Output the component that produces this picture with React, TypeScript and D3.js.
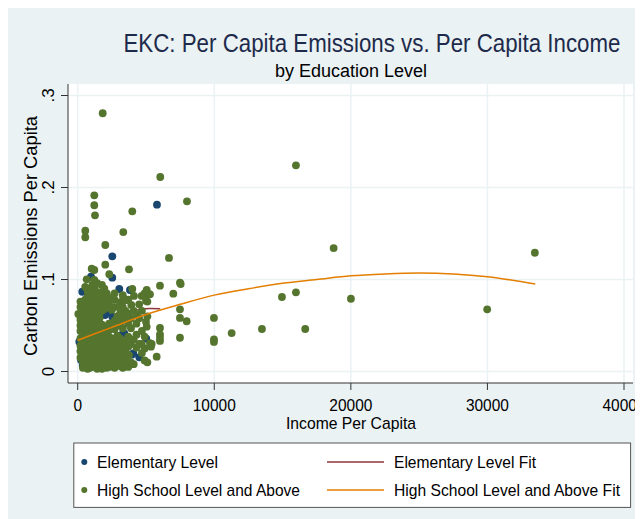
import React from "react";
import * as d3 from "d3";

// values
const xTicks = [0, 10000, 20000, 30000, 40000];
const yTicks = [0, 0.1, 0.2, 0.3];
const yTickLabels = ["0", ".1", ".2", ".3"];

const elementaryPoints: [number, number][] = [
  [5805, 0.1813], [2533, 0.1252], [2533, 0.102], [974, 0.103], [337, 0.0867],
  [974, 0.0832], [3045, 0.0897], [3828, 0.0886], [1998, 0.0614], [2533, 0.0596],
  [3294, 0.0408], [5022, 0.0357], [3953, 0.0183], [4509, 0.0154], [4070, 0.0198],
  [117, 0.0324], [242, 0.0125], [366, 0.0071], [2072, 0.063], [3411, 0.0415],
];

const highSchoolPoints: [number, number][] = [
  [1830, 0.2807], [6046, 0.2114], [8001, 0.185], [1215, 0.1915], [1215, 0.1807],
  [1266, 0.1698], [3997, 0.1741], [556, 0.153], [556, 0.1459], [3338, 0.1516],
  [2020, 0.1375], [6683, 0.1234], [2020, 0.1161], [3755, 0.1111], [1025, 0.1117],
  [1215, 0.1103], [2313, 0.1057], [659, 0.1002], [1215, 0.0995], [7488, 0.0965],
  [7540, 0.0951], [6024, 0.0933], [3997, 0.0897], [5050, 0.0886], [5240, 0.0842],
  [7000, 0.0846], [5292, 0.0839], [3338, 0.0796], [3485, 0.0774], [4120, 0.0821],
  [4685, 0.0821], [5000, 0.077], [3924, 0.0723], [2240, 0.0704], [3096, 0.0693],
  [7488, 0.0676], [44, 0.0625], [4319, 0.0614], [7488, 0.0582], [7979, 0.0546],
  [9977, 0.0582], [5000, 0.0541], [5050, 0.0487], [6024, 0.0473], [6024, 0.0404],
  [6024, 0.0367], [6024, 0.0332], [7488, 0.0367], [9977, 0.035], [9977, 0.0321],
  [11273, 0.0418], [5292, 0.0307], [4685, 0.0299], [5365, 0.027], [5783, 0.0161],
  [3755, 0.0179], [3096, 0.0111], [5417, 0.0299],
  [18739, 0.1342], [14955, 0.081], [15980, 0.0861], [20006, 0.0791], [13491, 0.0462],
  [16660, 0.0462], [15980, 0.2241], [33474, 0.1291], [29983, 0.0676],
];

// dense low-income cluster, read column by column: [income, emissions...]
const highSchoolCluster: [number, number[]][] = [
  [200, [0.015, 0.022, 0.028, 0.036, 0.044, 0.05, 0.056, 0.07, 0.076]],
  [380, [0.004, 0.01, 0.019, 0.026, 0.033, 0.04, 0.047, 0.053, 0.061, 0.068, 0.074]],
  [550, [0.006, 0.012, 0.018, 0.024, 0.03, 0.036, 0.042, 0.048, 0.054, 0.06, 0.066, 0.072, 0.078, 0.092]],
  [730, [0.003, 0.009, 0.015, 0.021, 0.027, 0.033, 0.039, 0.045, 0.051, 0.057, 0.063, 0.069, 0.075, 0.081, 0.087]],
  [900, [0.004, 0.01, 0.016, 0.022, 0.028, 0.034, 0.04, 0.046, 0.052, 0.058, 0.064, 0.07, 0.076, 0.09]],
  [1075, [0.007, 0.013, 0.019, 0.025, 0.031, 0.037, 0.043, 0.049, 0.055, 0.061, 0.067, 0.073, 0.079, 0.094]],
  [1250, [0.005, 0.011, 0.017, 0.023, 0.029, 0.035, 0.041, 0.047, 0.053, 0.059, 0.065, 0.071, 0.077, 0.085, 0.091]],
  [1425, [0.003, 0.008, 0.014, 0.02, 0.026, 0.032, 0.038, 0.044, 0.05, 0.056, 0.062, 0.068, 0.074, 0.081, 0.096]],
  [1600, [0.004, 0.01, 0.016, 0.022, 0.028, 0.034, 0.04, 0.046, 0.052, 0.058, 0.064, 0.07, 0.078, 0.086]],
  [1775, [0.003, 0.009, 0.015, 0.021, 0.027, 0.033, 0.039, 0.045, 0.051, 0.066, 0.072, 0.079, 0.094]],
  [1950, [0.006, 0.012, 0.018, 0.024, 0.03, 0.036, 0.042, 0.048, 0.068, 0.074, 0.082, 0.09]],
  [2125, [0.004, 0.009, 0.015, 0.021, 0.027, 0.034, 0.041, 0.049, 0.077, 0.085]],
  [2300, [0.005, 0.011, 0.017, 0.023, 0.03, 0.038, 0.045, 0.052, 0.073, 0.08]],
  [2500, [0.008, 0.014, 0.02, 0.028, 0.036, 0.05, 0.067]],
  [2700, [0.004, 0.01, 0.016, 0.024, 0.032, 0.046, 0.055, 0.07, 0.078, 0.085]],
  [2900, [0.007, 0.013, 0.021, 0.03, 0.039, 0.05, 0.06]],
  [3100, [0.006, 0.013, 0.02, 0.028, 0.036, 0.052, 0.063, 0.075]],
  [3300, [0.004, 0.018, 0.027, 0.047, 0.058, 0.07, 0.083]],
  [3500, [0.008, 0.015, 0.024, 0.033, 0.056, 0.066]],
  [3700, [0.005, 0.027, 0.038, 0.052, 0.063, 0.078]],
  [3900, [0.01, 0.03, 0.047, 0.058]],
  [4100, [0.008, 0.035, 0.066]],
  [4300, [0.026, 0.04, 0.052]],
  [4500, [0.03, 0.058, 0.073]],
  [4700, [0.02, 0.044, 0.066]],
  [4900, [0.012, 0.025, 0.038, 0.085]],
  [5100, [0.01, 0.06, 0.076]],
];

const elementaryFitIncome = [300, 1000, 1500, 2300, 3100, 3830, 4500, 5300, 6040];
const elementaryFitValue = [0.019, 0.031, 0.04, 0.0505, 0.059, 0.065, 0.0675, 0.0686, 0.0683];

const highSchoolFitIncome = [0, 2500, 5000, 7500, 10000, 12500, 15000, 17500, 20000, 22500, 25000, 27500, 30000, 33500];
const highSchoolFitValue = [0.034, 0.048, 0.062, 0.073, 0.083, 0.09, 0.096, 0.1, 0.104, 0.106, 0.107, 0.106, 0.103, 0.095];

const NAVY = "#1a476f";
const GREEN = "#55752f";
const MAROON = "#90353b";
const ORANGE = "#e37e00";
const BG = "#eaf2f3";
const FONT = "'Liberation Sans', Arial, sans-serif";

export default function App() {
  const x = d3.scaleLinear().domain([0, 40000]).range([77.7, 624]);
  const y = d3.scaleLinear().domain([0, 0.3]).range([371.5, 95.5]);
  const plot = { left: 68, right: 633, top: 84, bottom: 383 };

  const cluster: [number, number][] = highSchoolCluster.flatMap(([inc, vals]) =>
    vals.map((v) => [inc, v] as [number, number])
  );
  const hsAll = [...cluster, ...highSchoolPoints];

  const line = d3.line<number>().curve(d3.curveMonotoneX);
  const elemPath = line
    .x((_, i) => x(elementaryFitIncome[i]))
    .y((d) => y(d))(elementaryFitValue);
  const hsPath = line
    .x((_, i) => x(highSchoolFitIncome[i]))
    .y((d) => y(d))(highSchoolFitValue);

  const r = 3.9;

  return (
    <svg width={635} height={511} style={{ display: "block" }} fontFamily={FONT}>
      <g transform="translate(-8,-8)">
        <rect x={8} y={8} width={635} height={511} fill={BG} />
        <text x={372} y={52} textAnchor="middle" fontSize={25} fill="#1e2a4b" textLength={497} lengthAdjust="spacingAndGlyphs">
          EKC: Per Capita Emissions vs. Per Capita Income
        </text>
        <text x={351} y={77} textAnchor="middle" fontSize={18} fill="#000" textLength={152} lengthAdjust="spacingAndGlyphs">
          by Education Level
        </text>

        <rect x={plot.left} y={plot.top} width={plot.right - plot.left} height={plot.bottom - plot.top} fill="#fff" />
        {xTicks.map((t) => (
          <line key={"gx" + t} x1={x(t)} x2={x(t)} y1={plot.top} y2={plot.bottom} stroke={BG} strokeWidth={1.5} />
        ))}
        {yTicks.map((t) => (
          <line key={"gy" + t} x1={plot.left} x2={plot.right} y1={y(t)} y2={y(t)} stroke={BG} strokeWidth={1.5} />
        ))}

        {elementaryPoints.map(([a, b], i) => (
          <circle key={"e" + i} cx={x(a)} cy={y(b)} r={r} fill={NAVY} />
        ))}
        <path d={elemPath ?? ""} fill="none" stroke={MAROON} strokeWidth={1.5} />
        {hsAll.map(([a, b], i) => (
          <circle key={"h" + i} cx={x(a)} cy={y(b)} r={r} fill={GREEN} />
        ))}
        <path d={hsPath ?? ""} fill="none" stroke={ORANGE} strokeWidth={1.5} />

        <line x1={plot.left} x2={plot.left} y1={plot.top} y2={plot.bottom} stroke="#555" strokeWidth={1.2} />
        <line x1={plot.left} x2={plot.right} y1={plot.bottom} y2={plot.bottom} stroke="#333" strokeWidth={1} />
        {xTicks.map((t) => (
          <g key={"xt" + t}>
            <line x1={x(t)} x2={x(t)} y1={plot.bottom} y2={plot.bottom + 7} stroke="#333" />
            <text x={x(t)} y={411} textAnchor="middle" fontSize={17} fill="#000" textLength={String(t).length * 8.6} lengthAdjust="spacingAndGlyphs">
              {t}
            </text>
          </g>
        ))}
        {yTicks.map((t, i) => (
          <g key={"yt" + t}>
            <line x1={plot.left - 7} x2={plot.left} y1={y(t)} y2={y(t)} stroke="#333" />
            <text transform={`translate(54,${y(t)}) rotate(-90)`} textAnchor="middle" fontSize={17} fill="#000">
              {yTickLabels[i]}
            </text>
          </g>
        ))}
        <text x={351} y={429} textAnchor="middle" fontSize={17} fill="#000" textLength={130} lengthAdjust="spacingAndGlyphs">
          Income Per Capita
        </text>
        <text transform="translate(37,236) rotate(-90)" textAnchor="middle" fontSize={18} fill="#000" textLength={240} lengthAdjust="spacingAndGlyphs">
          Carbon Emissions Per Capita
        </text>

        <rect x={73.8} y={443} width={556.8} height={64.4} fill="#fff" stroke="#555" strokeWidth={1} />
        <circle cx={84.3} cy={462} r={3} fill={NAVY} />
        <text x={97} y={468} fontSize={17} fill="#000" textLength={121} lengthAdjust="spacingAndGlyphs">Elementary Level</text>
        <circle cx={84.3} cy={490} r={3} fill={GREEN} />
        <text x={97} y={496} fontSize={17} fill="#000" textLength={203} lengthAdjust="spacingAndGlyphs">High School Level and Above</text>
        <line x1={327} x2={384} y1={462} y2={462} stroke={MAROON} strokeWidth={1.5} />
        <text x={394} y={468} fontSize={17} fill="#000" textLength={142} lengthAdjust="spacingAndGlyphs">Elementary Level Fit</text>
        <line x1={327} x2={384} y1={490} y2={490} stroke={ORANGE} strokeWidth={1.5} />
        <text x={394} y={496} fontSize={17} fill="#000" textLength={226} lengthAdjust="spacingAndGlyphs">High School Level and Above Fit</text>
      </g>
    </svg>
  );
}
